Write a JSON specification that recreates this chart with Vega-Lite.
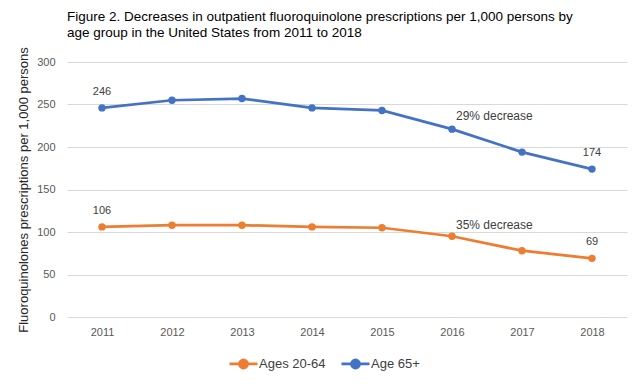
{
  "$schema": "https://vega.github.io/schema/vega-lite/v6.json",
  "autosize": {"type": "none"},
  "width": 560,
  "height": 255,
  "padding": {"left": 67, "top": 62, "right": 17, "bottom": 71},
  "background": "white",
  "config": {
    "font": "Liberation Sans",
    "view": {"stroke": null},
    "axis": {"labelFont": "Liberation Sans", "titleFont": "Liberation Sans"}
  },
  "title": {
    "text": ["Figure 2. Decreases in outpatient fluoroquinolone prescriptions per 1,000 persons by", "age group in the United States from 2011 to 2018"],
    "anchor": "start",
    "frame": "group",
    "fontSize": 13.5,
    "fontWeight": "normal",
    "color": "#000000",
    "lineHeight": 16,
    "offset": 7
  },
  "datasets": {
    "series": [
      {"year": "2011", "group": "Ages 20-64", "value": 106, "label": "106"},
      {"year": "2012", "group": "Ages 20-64", "value": 108, "label": null},
      {"year": "2013", "group": "Ages 20-64", "value": 108, "label": null},
      {"year": "2014", "group": "Ages 20-64", "value": 106, "label": null},
      {"year": "2015", "group": "Ages 20-64", "value": 105, "label": null},
      {"year": "2016", "group": "Ages 20-64", "value": 95, "label": null},
      {"year": "2017", "group": "Ages 20-64", "value": 78, "label": null},
      {"year": "2018", "group": "Ages 20-64", "value": 69, "label": "69"},
      {"year": "2011", "group": "Age 65+", "value": 246, "label": "246"},
      {"year": "2012", "group": "Age 65+", "value": 255, "label": null},
      {"year": "2013", "group": "Age 65+", "value": 257, "label": null},
      {"year": "2014", "group": "Age 65+", "value": 246, "label": null},
      {"year": "2015", "group": "Age 65+", "value": 243, "label": null},
      {"year": "2016", "group": "Age 65+", "value": 221, "label": null},
      {"year": "2017", "group": "Age 65+", "value": 194, "label": null},
      {"year": "2018", "group": "Age 65+", "value": 174, "label": "174"}
    ],
    "notes": [
      {"year": "2016", "value": 236, "text": "29% decrease"},
      {"year": "2016", "value": 108, "text": "35% decrease"}
    ]
  },
  "layer": [
    {
      "data": {"name": "series"},
      "mark": {"type": "line", "strokeWidth": 2.75, "point": {"filled": true, "size": 55}},
      "encoding": {
        "x": {
          "field": "year", "type": "ordinal",
          "scale": {"type": "point", "padding": 0.5},
          "axis": {"title": null, "labelAngle": 0, "ticks": false, "domain": false, "grid": false, "labelFontSize": 11, "labelColor": "#595959", "labelPadding": 9}
        },
        "y": {
          "field": "value", "type": "quantitative",
          "scale": {"domain": [0, 300], "nice": false},
          "axis": {
            "title": "Fluoroquinolones prescriptions per 1,000 persons",
            "titleFontSize": 13, "titleFontWeight": "normal", "titleColor": "#262626", "titlePadding": 6,
            "values": [0, 50, 100, 150, 200, 250, 300],
            "ticks": false, "domain": false, "gridColor": "#d9d9d9", "gridWidth": 1,
            "labelFontSize": 11, "labelColor": "#595959", "labelPadding": 12
          }
        },
        "color": {
          "field": "group", "type": "nominal",
          "scale": {"domain": ["Ages 20-64", "Age 65+"], "range": ["#ED7D31", "#4472C4"]},
          "legend": {
            "title": null,
            "orient": "none",
            "direction": "horizontal",
            "legendX": 161,
            "legendY": 286,
            "symbolType": "M-1,0L1,0M0.29,0A0.29,0.29,0,1,1,-0.29,0A0.29,0.29,0,1,1,0.29,0Z",
            "symbolSize": 784,
            "symbolStrokeWidth": 2.75,
            "labelFontSize": 13,
            "labelColor": "#404040",
            "labelOffset": 0,
            "columnPadding": 10,
            "encode": {"symbols": {"update": {"fill": {"scale": "color", "field": "value"}, "stroke": {"scale": "color", "field": "value"}, "strokeWidth": {"value": 2.75}, "opacity": {"value": 1}}}}
          }
        }
      }
    },
    {
      "data": {"name": "series"},
      "transform": [{"filter": "datum.label != null"}],
      "mark": {"type": "text", "dy": -16, "fontSize": 11, "color": "#404040"},
      "encoding": {
        "x": {"field": "year", "type": "ordinal"},
        "y": {"field": "value", "type": "quantitative"},
        "text": {"field": "label"}
      }
    },
    {
      "data": {"name": "notes"},
      "mark": {"type": "text", "align": "left", "dx": 4, "fontSize": 12, "color": "#404040"},
      "encoding": {
        "x": {"field": "year", "type": "ordinal"},
        "y": {"field": "value", "type": "quantitative"},
        "text": {"field": "text"}
      }
    }
  ]
}
